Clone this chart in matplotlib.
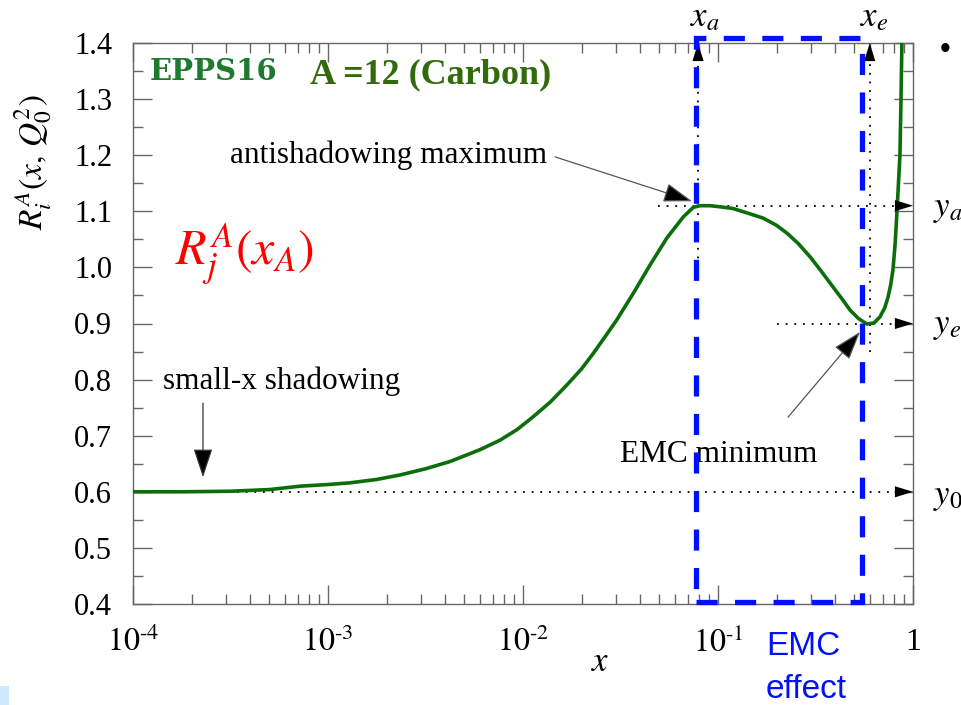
import numpy as np
import matplotlib
matplotlib.use("Agg")
import matplotlib.pyplot as plt
from matplotlib.patches import Rectangle

plt.rcParams['mathtext.fontset'] = 'stix'
plt.rcParams['font.family'] = ['Liberation Serif', 'DejaVu Serif']

# ---- data ----
log10_x = [-4.0, -3.75, -3.5, -3.3, -3.144, -3.0, -2.887, -2.75, -2.631, -2.5,
           -2.374, -2.221, -2.118, -2.03, -1.947, -1.86, -1.776, -1.70, -1.639, -1.58,
           -1.52, -1.434, -1.349, -1.263, -1.178, -1.127, -1.092, -1.04, -0.99, -0.923,
           -0.85, -0.769, -0.70, -0.646, -0.59, -0.528, -0.47, -0.41, -0.36, -0.323,
           -0.28, -0.236, -0.2, -0.169, -0.145, -0.128, -0.115, -0.103, -0.092, -0.082,
           -0.067, -0.062, -0.057, -0.050]
ratio = [0.600, 0.600, 0.601, 0.604, 0.610, 0.613, 0.616, 0.622, 0.630, 0.641,
         0.654, 0.675, 0.692, 0.711, 0.734, 0.760, 0.790, 0.819, 0.847, 0.876,
         0.906, 0.954, 1.004, 1.052, 1.090, 1.107, 1.110, 1.110, 1.108, 1.105,
         1.097, 1.088, 1.075, 1.061, 1.043, 1.019, 0.993, 0.965, 0.942, 0.924,
         0.909, 0.899, 0.901, 0.912, 0.928, 0.947, 0.968, 0.995, 1.040, 1.100,
         1.200, 1.290, 1.400, 1.520]
x_curve = 10.0 ** np.array(log10_x)

x_a, y_a = 0.079, 1.11      # antishadowing maximum
x_e, y_e = 0.60, 0.90       # EMC minimum
y_0 = 0.60                  # small-x limit

xticks = [1e-4, 1e-3, 1e-2, 1e-1, 1]
xticklabels = [r'$10^{\text{-}4}$', r'$10^{\text{-}3}$', r'$10^{\text{-}2}$', r'$10^{\text{-}1}$', '1']
yticks = [0.4, 0.5, 0.6, 0.7, 0.8, 0.9, 1.0, 1.1, 1.2, 1.3, 1.4]
yticklabels = ['0.4', '0.5', '0.6', '0.7', '0.8', '0.9', '1.0', '1.1', '1.2', '1.3', '1.4']

# EMC region box (x range, y range)
emc_box_x = (0.077, 0.547)
emc_box_y = (0.4036, 1.409)

W, H = 961, 705
fig = plt.figure(figsize=(W / 100, H / 100), dpi=100)
ax = fig.add_axes([133 / W, (H - 604) / H, 780 / W, 561 / H])
ax.set_xscale('log')
ax.set_xlim(1e-4, 1)
ax.set_ylim(0.4, 1.4)

green = '#0b6e0b'
ax.plot(x_curve, ratio, color=green, lw=2.6, zorder=4, solid_capstyle='round',
        solid_joinstyle='round')

dot = dict(color='black', lw=1.3, linestyle=(0, (1.0, 3.8)), zorder=3)
ax.plot([1e-4, 0.93], [y_0, y_0], **dot)
ax.plot([0.049, 0.93], [y_a, y_a], **dot)
ax.plot([0.20, 0.93], [y_e, y_e], **dot)
ax.plot([x_a, x_a], [1.0, 1.37], **dot)
ax.plot([x_e, x_e], [0.85, 1.37], **dot)

head = dict(arrowstyle='-|>,head_length=0.65,head_width=0.2', color='black', lw=0.01,
            mutation_scale=20, shrinkA=0, shrinkB=0)
for yy in (y_0, y_a, y_e):
    ax.annotate('', xy=(1.0, yy), xycoords=('axes fraction', 'data'),
                xytext=(0.97, yy), textcoords=('axes fraction', 'data'),
                arrowprops=head, annotation_clip=False, zorder=5)
for xx in (x_a, x_e):
    ax.annotate('', xy=(xx, 1.0), xycoords=('data', 'axes fraction'),
                xytext=(xx, 0.95), textcoords=('data', 'axes fraction'),
                arrowprops=head, annotation_clip=False, zorder=5)

# annotations
txt = dict(fontsize=22.5, color='black', family=['Liberation Serif'])
ax.text(3.14e-4, 1.186, 'antishadowing maximum', ha='left', va='baseline', **txt)
ax.annotate('', xy=(0.0736, 1.118), xytext=(0.0146, 1.197),
            arrowprops=dict(arrowstyle='-|>,head_length=0.9,head_width=0.3',
                            mutation_scale=20, facecolor='black', edgecolor='#555555',
                            lw=0.9, shrinkA=0, shrinkB=0), zorder=5)
ax.text(1.425e-4, 0.783, 'small-x shadowing', ha='left', va='baseline', **txt)
ax.annotate('', xy=(2.285e-4, 0.626), xytext=(2.285e-4, 0.758),
            arrowprops=dict(arrowstyle='-|>,head_length=0.9,head_width=0.3',
                            mutation_scale=20, facecolor='black', edgecolor='#333333',
                            lw=0.9, shrinkA=0, shrinkB=0), zorder=5)
ax.text(0.0314, 0.653, 'EMC minimum', ha='left', va='baseline', zorder=2, **txt)
ax.annotate('', xy=(0.535, 0.885), xytext=(0.2286, 0.733),
            arrowprops=dict(arrowstyle='-|>,head_length=0.9,head_width=0.3',
                            mutation_scale=20, facecolor='black', edgecolor='#555555',
                            lw=0.9, shrinkA=0, shrinkB=0), zorder=5)

ax.text(1.22e-4, 1.334, 'EPPS16', ha='left', va='baseline', fontsize=21,
        fontweight='bold', color='#1e7a2e', family=['DejaVu Serif'])
ax.text(8.09e-4, 1.329, 'A =12 (Carbon)', ha='left', va='baseline', fontsize=26,
        fontweight='bold', color='#336b0c', family=['Liberation Serif'])
ax.text(1.64e-4, 1.022, r'$R_j^{A}(x_A)$', ha='left', va='center', fontsize=36,
        color='#ff0000')

# outside labels
ax.text(0.0857, 1.445, r'$x_a$', ha='center', va='center', fontsize=25, clip_on=False)
ax.text(0.63, 1.445, r'$x_e$', ha='center', va='center', fontsize=25, clip_on=False)
ax.text(1.266, y_a - 0.005, r'$y_a$', ha='left', va='center', fontsize=25, clip_on=False)
ax.text(1.266, y_e - 0.003, r'$y_e$', ha='left', va='center', fontsize=25, clip_on=False)
ax.text(1.266, y_0 - 0.009, r'$y_0$', ha='left', va='center', fontsize=25, clip_on=False)

# EMC box
box = Rectangle((emc_box_x[0], emc_box_y[0]), emc_box_x[1] - emc_box_x[0],
                emc_box_y[1] - emc_box_y[0], fill=False, edgecolor='#0010ff',
                lw=3.8, linestyle=(0, (4.0, 3.3)), clip_on=False, zorder=6)
ax.add_patch(box)

# axes styling
for s in ax.spines.values():
    s.set_color('#666666')
    s.set_linewidth(1.0)
ax.set_xticks(xticks)
ax.set_xticklabels(xticklabels)
ax.set_yticks(yticks)
ax.set_yticklabels(yticklabels)
ax.set_yticks(np.arange(0.45, 1.4, 0.1), minor=True)
ax.tick_params(which='both', direction='in', top=True, right=True, colors='#666666',
               labelcolor='black')
ax.tick_params(which='major', length=14, width=1.0)
ax.tick_params(which='minor', length=7, width=1.0)
ax.tick_params(axis='x', which='major', pad=17, labelsize=23)
ax.tick_params(axis='y', which='major', pad=15, labelsize=22)

ax.set_xlabel(r'$x$', fontsize=25)
ax.xaxis.set_label_coords((600 - 133) / 780, -0.075)
fig.text(33 / W, 1 - 162 / H, r'$R_i^A(x,\,Q_0^2)$', rotation=90, ha='center',
         va='center', fontsize=24)

# slide decorations
fig.text(766 / W, (H - 655) / H, 'EMC', fontsize=24, color='#0010ff',
         family=['Liberation Sans'], ha='left', va='baseline')
fig.text(766 / W, (H - 698) / H, 'effect', fontsize=24, color='#0010ff',
         family=['Liberation Sans'], ha='left', va='baseline')
fig.text(945 / W, 1 - 50 / H, '\u2022', fontsize=22, color='black',
         family=['Liberation Sans'], ha='center', va='center')
fig.patches.append(Rectangle((0, 0), 9 / W, 19 / H, transform=fig.transFigure,
                             facecolor='#cde9fb', edgecolor='none'))

fig.savefig('out.png', dpi=100)
